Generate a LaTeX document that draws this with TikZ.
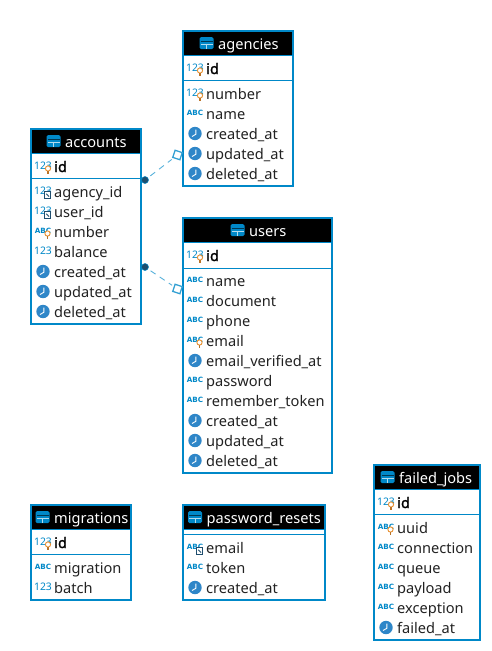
\documentclass[tikz,border=0pt]{standalone}
\usepackage{fontspec}
\setmainfont{Noto Sans}
\newfontfamily\fbold[FakeBold=1.6]{Noto Sans}
\newfontfamily\iconbold{DejaVu Sans Bold}
\definecolor{bl}{HTML}{0088C8}
\definecolor{ic}{HTML}{2E86C8}
\definecolor{gold}{HTML}{E89030}
\definecolor{dk}{HTML}{1F4E6E}
\definecolor{tx}{HTML}{222222}
\tikzset{
 hdr/.style={fill=black,inner sep=0pt,anchor=north west},
 ttl/.style={text=white,font=\fontsize{14.6}{14.6}\selectfont,anchor=base west,inner sep=0pt},
 col/.style={text=tx,font=\fontsize{14.6}{14.6}\selectfont,anchor=base west,inner sep=0pt},
 pk/.style={col,text=black,font=\fontsize{14.6}{14.6}\selectfont\fbold},
 sep/.style={draw=bl,line width=1pt},
 brd/.style={draw=bl,line width=2pt},
 rel/.style={draw=bl!65,line width=.9pt,dash pattern=on 6pt off 5pt,shorten >=2pt,shorten <=3pt},
 fkend/.style={circle,fill=dk,draw=bl,line width=.5pt,minimum size=7pt,inner sep=0pt},
 pkend/.style={rectangle,draw=bl!80,fill=white,line width=1.3pt,minimum size=7.5pt,inner sep=0pt,rotate=-18},
}
\newcommand{\ticon}[1]{\begin{scope}[shift={(#1)}]
 \fill[bl,rounded corners=1.5pt](-7,-6) rectangle (7,6);
 \draw[black!60!bl,line width=.9pt](-6,-1.5)--(6,-1.5);
 \draw[white!70!bl,line width=.9pt](-6,1)--(6,1);
 \draw[white!70!bl,line width=.9pt](0,1)--(0,6);
 \end{scope}}
\newcommand{\nlab}[1]{\node[text=bl,font=\fontsize{10.4}{10.4}\selectfont,inner sep=0pt] at (#1) {123};}
\newcommand{\alab}[1]{\node[text=bl,font=\fontsize{7.2}{7.2}\selectfont\iconbold,inner sep=0pt] at (#1) {ABC};}
\newcommand{\bulb}[1]{\begin{scope}[shift={(#1)}]
 \draw[gold,fill=white,line width=.9pt](0,0) circle (2.6);
 \draw[gold!80!black,line width=1.1pt](0,2.6)--(0,5);\end{scope}}
\newcommand{\fkbox}[1]{\begin{scope}[shift={(#1)}]
 \draw[dk,fill=white,line width=.9pt](-3.2,-3.2) rectangle (3.2,3.2);
 \draw[dk,line width=.9pt](-1.2,-1.2)--(1.6,1.6);\end{scope}}
\newcommand{\clk}[1]{\begin{scope}[shift={(#1)}]
 \fill[ic](0,0) circle (6.7);
 \draw[white,line width=.9pt](0.8,-3.8)--(0.8,0.8)--(-3,3);\end{scope}}
\newcommand{\rowN}[4]{\nlab{#2,#3-1.5}\node[col] (#4) at (#2+11,#3+5) {#1};}
\newcommand{\rowA}[4]{\alab{#2,#3-1.5}\node[col] (#4) at (#2+11,#3+5) {#1};}
\newcommand{\rowT}[4]{\clk{#2,#3-.5}\node[col] (#4) at (#2+11,#3+5) {#1};}
\newcommand{\rowK}[4]{\nlab{#2,#3-1.5}\bulb{#2+5,#3+1.5}\node[col] (#4) at (#2+11,#3+5) {#1};}
\newcommand{\rowPK}[3]{\nlab{#1,#2-1.5}\bulb{#1+5,#2+1.5}\node[pk] (#3) at (#1+11,#2+5) {id};}
\newcommand{\rowF}[4]{\nlab{#2,#3-1.5}\fkbox{#2+4.5,#3+3}\node[col] (#4) at (#2+11,#3+5) {#1};}
\newcommand{\rowAK}[4]{\alab{#2,#3-1.5}\bulb{#2+4.5,#3+1.5}\node[col] (#4) at (#2+11,#3+5) {#1};}
\newcommand{\rowAF}[4]{\alab{#2,#3-1.5}\fkbox{#2+4.5,#3+3}\node[col] (#4) at (#2+11,#3+5) {#1};}
% title,id,x0,y0,w,h,sepy,titlex
\newcommand{\thead}[8]{%
 \node[hdr,minimum width=#5pt,minimum height=24pt] (#2) at (#3,#4) {};
 \draw[sep] (#3,#4+24)--(#3+#5,#4+24);
 \draw[sep] (#3,#7)--(#3+#5,#7);
 \draw[brd] (#3,#4) rectangle (#3+#5,#4+#6);
 \ticon{#8-11.5,#4+12}
 \node[ttl] (#2t) at (#8,#4+18) {#1};}
\begin{document}
\begin{tikzpicture}[x=1pt,y=-1pt]
\useasboundingbox (0,0) rectangle (491,651);
\fill[white] (0,0) rectangle (491,651);
\thead{agencies}{ag}{183}{31}{110}{155}{80.5}{218}
\rowPK{195}{69}{ag0}
\rowK{number}{195}{94}{ag1}
\rowA{name}{195}{114}{ag2}
\rowT{created\_at}{195}{134}{ag3}
\rowT{updated\_at}{195}{154}{ag4}
\rowT{deleted\_at}{195}{174}{ag5}
\thead{accounts}{ac}{31}{129}{110}{195}{178.5}{65}
\rowPK{43}{167}{ac0}
\rowF{agency\_id}{43}{192}{ac1}
\rowF{user\_id}{43}{212}{ac2}
\rowAK{number}{43}{232}{ac3}
\rowN{balance}{43}{252}{ac4}
\rowT{created\_at}{43}{272}{ac5}
\rowT{updated\_at}{43}{292}{ac6}
\rowT{deleted\_at}{43}{312}{ac7}
\thead{users}{us}{183}{218}{149}{255}{268.5}{249}
\rowPK{195}{256}{us0}
\rowA{name}{195}{281}{us1}
\rowA{document}{195}{301}{us2}
\rowA{phone}{195}{321}{us3}
\rowAK{email}{195}{341}{us4}
\rowT{email\_verified\_at}{195}{361}{us5}
\rowA{password}{195}{381}{us6}
\rowA{remember\_token}{195}{401}{us7}
\rowT{created\_at}{195}{421}{us8}
\rowT{updated\_at}{195}{441}{us9}
\rowT{deleted\_at}{195}{461}{us10}
\thead{migrations}{mi}{31}{505}{100}{95}{554.5}{54}
\rowPK{43}{543}{mi0}
\rowA{migration}{43}{568}{mi1}
\rowN{batch}{43}{588}{mi2}
\thead{password\_resets}{pw}{183}{505}{142}{95}{534.5}{206.5}
\rowAF{email}{195}{548}{pw1}
\rowA{token}{195}{568}{pw2}
\rowT{created\_at}{195}{588}{pw3}
\thead{failed\_jobs}{fj}{374}{465}{106}{175}{514.5}{399}
\rowPK{386}{503}{fj0}
\rowAK{uuid}{386}{528}{fj1}
\rowA{connection}{386}{548}{fj2}
\rowA{queue}{386}{568}{fj3}
\rowA{payload}{386}{588}{fj4}
\rowA{exception}{386}{608}{fj5}
\rowT{failed\_at}{386}{628}{fj6}
\node[fkend] (r1a) at (145,180) {};
\node[pkend] (r1b) at (177.5,155) {};
\node[fkend] (r2a) at (145,267) {};
\node[pkend] (r2b) at (177.5,289) {};
\draw[rel] (r1a)--(r1b);
\draw[rel] (r2a)--(r2b);
\end{tikzpicture}
\end{document}
